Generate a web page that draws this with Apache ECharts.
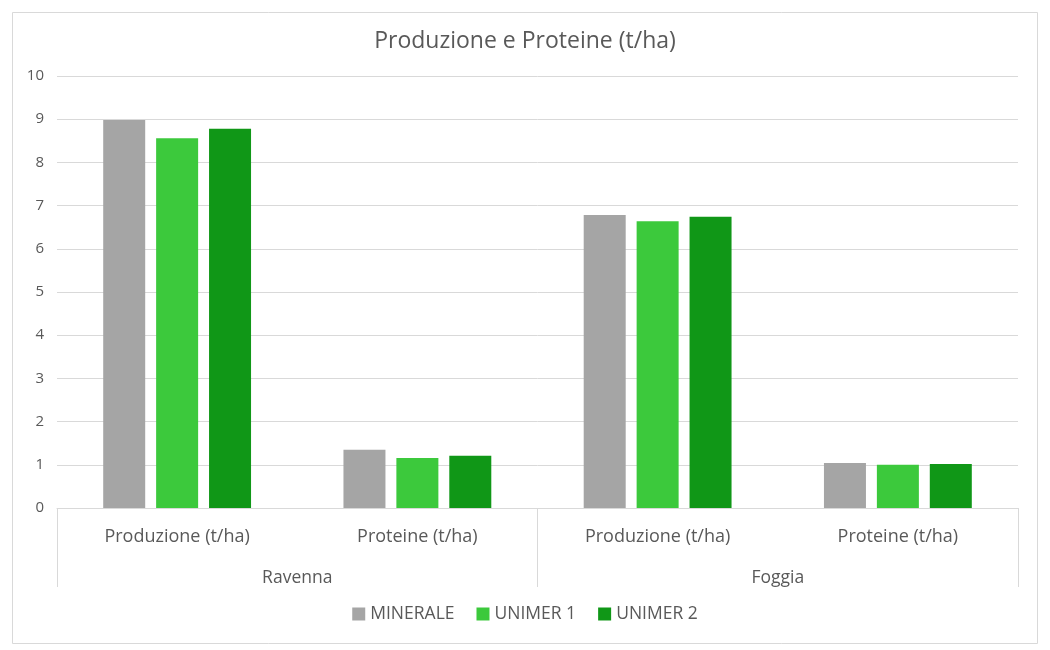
<!DOCTYPE html>
<html><head><meta charset="utf-8">
<script src="https://cdn.jsdelivr.net/npm/echarts@6/dist/echarts.min.js"></script>
<style>html,body{margin:0;padding:0;background:#fff}#c{width:1050px;height:650px}</style>
</head><body><div id="c"></div>
<script>
const categories = ['Produzione (t/ha)', 'Proteine (t/ha)', 'Produzione (t/ha)', 'Proteine (t/ha)'];
const groups = ['Ravenna', 'Foggia'];
const minerale = [8.98, 1.35, 6.78, 1.04];
const unimer1 = [8.56, 1.16, 6.64, 1.00];
const unimer2 = [8.78, 1.21, 6.74, 1.02];
const yTicks = [0, 10, 1];

const font = '"Open Sans", "Noto Sans", sans-serif';
const chart = echarts.init(document.getElementById('c'));
chart.setOption({
  backgroundColor: '#fff',
  animation: false,
  graphic: [{type: 'rect', shape: {x: 12.5, y: 12.5, width: 1025, height: 631}, style: {fill: 'none', stroke: '#D9D9D9', lineWidth: 1}}],
  title: {text: 'Produzione e Proteine (t/ha)', left: 'center', top: 25, textStyle: {fontFamily: font, fontSize: 23, fontWeight: 'normal', color: '#595959'}},
  legend: {bottom: 22, left: 'center', itemWidth: 13, itemHeight: 13, itemGap: 22, icon: 'rect',
    textStyle: {fontFamily: font, fontSize: 17.5, color: '#595959'}},
  grid: {left: 57, right: 32, top: 76, bottom: 142},
  xAxis: [
    {type: 'category', data: categories, position: 'bottom',
      axisLine: {lineStyle: {color: '#D9D9D9'}}, axisTick: {show: false},
      axisLabel: {margin: 20, fontFamily: font, fontSize: 18, color: '#595959'}},
    {type: 'category', data: groups, position: 'bottom', offset: 0, boundaryGap: true,
      axisLine: {show: false}, axisTick: {show: true, length: 79, lineStyle: {color: '#D9D9D9'}},
      axisLabel: {margin: 61, fontFamily: font, fontSize: 17.5, color: '#595959'}}
  ],
  yAxis: {type: 'value', min: yTicks[0], max: yTicks[1], interval: yTicks[2],
    axisLine: {show: false}, axisTick: {show: false},
    splitLine: {lineStyle: {color: '#D9D9D9'}},
    axisLabel: {margin: 13, fontFamily: font, fontSize: 15, color: '#595959'}},
  series: [
    {name: 'MINERALE', type: 'bar', data: minerale, barWidth: 42, barGap: '26%', itemStyle: {color: '#A5A5A5'}},
    {name: 'UNIMER 1', type: 'bar', data: unimer1, barWidth: 42, barGap: '26%', itemStyle: {color: '#3CC93C'}},
    {name: 'UNIMER 2', type: 'bar', data: unimer2, barWidth: 42, barGap: '26%', itemStyle: {color: '#109717'}}
  ]
});
</script></body></html>
